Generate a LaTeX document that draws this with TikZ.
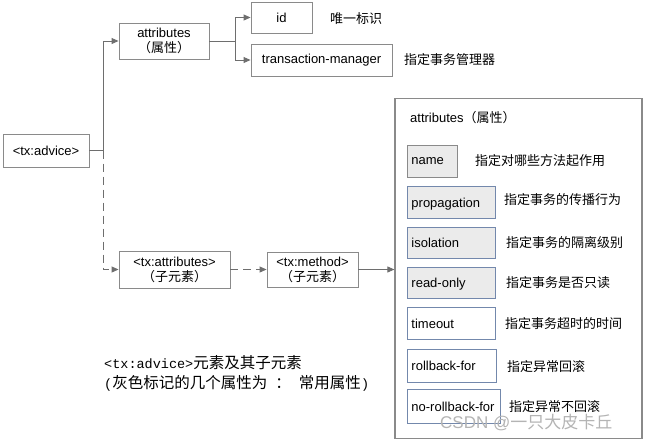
\documentclass[tikz,border=0pt]{standalone}
\usepackage{fontspec}
\setmainfont{Liberation Sans}
\newfontfamily\cjk{Noto Sans CJK SC}
\newfontfamily\monof{Liberation Mono}
\usetikzlibrary{arrows.meta,calc}
\definecolor{linegray}{HTML}{6E6E6E}
\definecolor{boxgray}{HTML}{8A8A8A}
\definecolor{fillgray}{HTML}{EBEBEB}
\definecolor{bluegray}{HTML}{7388AC}
\definecolor{wmgray}{HTML}{B4B4B4}
\begin{document}
\begin{tikzpicture}[x=1pt,y=-1pt,
  every node/.style={font=\fontsize{13}{15}\selectfont, inner sep=0pt},
  box/.style={draw=boxgray, line width=0.9pt, fill=white, align=center},
  attrbox/.style={draw=bluegray, line width=0.9pt, anchor=north west, align=left, inner xsep=4pt, text depth=0pt},
  graybox/.style={attrbox, fill=fillgray},
  conn/.style={draw=linegray, line width=0.9pt, -{Triangle[length=7pt,width=6pt]}},
  dconn/.style={conn, dash pattern=on 8pt off 5pt},
  desc/.style={anchor=west, font=\cjk\fontsize{13}{15}\selectfont}
]
\useasboundingbox (0,0) rectangle (646,442);

% top-left part
\node[box, minimum width=86pt, minimum height=33pt] (advice) at (46,150.5) {<tx:advice>};
\node[box, minimum width=90pt, minimum height=36pt] (attr) at (164,41) {attributes\\[0pt]{\cjk （属性）}};
\node[box, minimum width=61pt, minimum height=31pt] (id) at (281.5,17.5) {id};
\node[box, minimum width=141pt, minimum height=32pt] (tm) at (321.5,60) {transaction-manager};
\node[desc] (idd) at (330,19) {唯一标识};
\node[desc] (tmd) at (404,60) {指定事务管理器};

\node[box, minimum width=111pt, minimum height=37pt] (txattr) at (174.5,269.5) {<tx:attributes>\\[0pt]{\cjk （子元素）}};
\node[box, minimum width=91pt, minimum height=35pt] (txmethod) at (312.5,269.5) {<tx:method>\\[0pt]{\cjk （子元素）}};

% big box
\node[draw=boxgray, line width=1.2pt, fill=white, minimum width=247pt, minimum height=340pt] (big) at (518.5,268.5) {};
\node[anchor=west] (bigt) at (410,118) {attributes{\cjk （属性）}};

\node[graybox, draw=boxgray, minimum width=50pt, minimum height=32pt, text width=42pt] (name) at (407,145) {name};
\node[graybox, minimum width=88pt, minimum height=32pt, text width=80pt] (prop) at (407,186) {propagation};
\node[graybox, minimum width=88pt, minimum height=31pt, text width=80pt] (iso) at (407,227) {isolation};
\node[graybox, minimum width=88pt, minimum height=31pt, text width=80pt] (ro) at (407,267) {read-only};
\node[attrbox, fill=white, minimum width=88pt, minimum height=32pt, text width=80pt] (to) at (407,307) {timeout};
\node[attrbox, fill=white, minimum width=89pt, minimum height=33pt, text width=81pt] (rb) at (407,349) {rollback-for};
\node[attrbox, fill=white, minimum width=93pt, minimum height=34pt, text width=85pt] (nrb) at (407,389) {no-rollback-for};

\node[desc] (named) at (475,161) {指定对哪些方法起作用};
\node[desc] (propd) at (504,200) {指定事务的传播行为};
\node[desc] (isod) at (506,243) {指定事务的隔离级别};
\node[desc] (rod) at (506,283) {指定事务是否只读};
\node[desc] (tod) at (505,324) {指定事务超时的时间};
\node[desc] (rbd) at (507,367) {指定异常回滚};
\node[desc] (nrbd) at (509,407) {指定异常不回滚};

% connectors
\coordinate (j1) at ($(advice.east)+(14,0)$);
\coordinate (j2) at ($(attr.east)+(26,0)$);
\draw[draw=linegray, line width=0.9pt] (advice.east) -- (j1);
\draw[conn] (j1) |- (attr.west);
\draw[dconn] (j1) |- (txattr.west);
\draw[draw=linegray, line width=0.9pt] (attr.east) -- (j2);
\draw[conn] (j2) |- (id.west);
\draw[conn] (j2) |- (tm.west);
\draw[dconn] (txattr.east) -- (txmethod.west);
\draw[conn] (txmethod.east) -- (txmethod.east -| big.west);

% caption
\node[anchor=west, font=\fontsize{15.5}{18}\selectfont] (cap1) at (104,363) {{\monof\fontsize{13.5}{18}\selectfont <tx:advice>}{\cjk 元素及其子元素}};
\node[anchor=west, font=\fontsize{15.5}{18}\selectfont] (cap2) at (104,383) {{\monof\fontsize{13.5}{18}\selectfont (}{\cjk 灰色标记的几个属性为}{\monof\fontsize{13.5}{18}\selectfont\ }{\cjk ：}{\monof\fontsize{13.5}{18}\selectfont\ }{\cjk 常用属性}{\monof\fontsize{13.5}{18}\selectfont )}};

% watermark
\node[anchor=west, text=wmgray, font=\fontsize{17}{20}\selectfont] (wm) at (440,423) {CSDN @{\cjk 一只大皮卡丘}};
\end{tikzpicture}
\end{document}
